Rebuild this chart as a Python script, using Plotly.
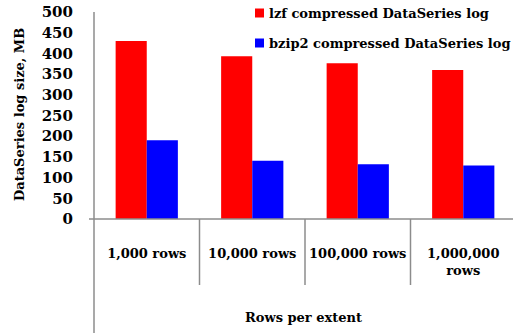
import plotly.graph_objects as go

categories = ["1,000 rows", "10,000 rows", "100,000 rows", "1,000,000<br>rows"]
lzf_values = [430, 393, 376, 360]
bzip2_values = [190, 141, 132, 129]
series_names = ["lzf compressed DataSeries log", "bzip2 compressed DataSeries log"]
series_colors = ["#ff0000", "#0000ff"]
y_ticks = [0, 50, 100, 150, 200, 250, 300, 350, 400, 450, 500]

FONT = "DejaVu Serif"
GRAY = "#8c8c8c"


def bold(size):
    return dict(family=FONT, size=size, color="black", weight="bold")


fig = go.Figure()
for vals, name, col in zip([lzf_values, bzip2_values], series_names, series_colors):
    fig.add_trace(go.Bar(x=categories, y=vals, name=name,
                         marker=dict(color=col, line=dict(width=0)), showlegend=False))

W, H = 513, 335
L, T, B = 94, 12, 116
pw = W - L
ph = H - T - B

shapes = []
for i in range(len(categories) - 1):
    shapes.append(dict(type="line", xref="x", yref="paper", x0=i + 0.5, x1=i + 0.5,
                       y0=0, y1=-(285 - 219) / ph, line=dict(color=GRAY, width=1.5)))
shapes.append(dict(type="line", xref="paper", yref="paper", x0=0, x1=0,
                   y0=1, y1=-(333 - 219) / ph, line=dict(color=GRAY, width=1.5)))
shapes.append(dict(type="line", xref="paper", yref="paper", x0=-5 / pw, x1=1,
                   y0=0, y1=0, line=dict(color=GRAY, width=1.5)))

annotations = [
    dict(text="Rows per extent", xref="paper", yref="paper", x=0.5, xanchor="center",
         y=-(317 - 219) / ph, yanchor="middle", showarrow=False, font=bold(13)),
    dict(text="DataSeries log size, MB", xref="paper", yref="paper",
         x=(19 - L) / pw, xanchor="center", y=(219 - 115) / ph, yanchor="middle",
         textangle=-90, showarrow=False, font=bold(13)),
]

# legend (manual, to match the reference's compact layout)
legend_rows_y = [13, 43]
for name, col, yy in zip(series_names, series_colors, legend_rows_y):
    yc = (219 - yy) / ph
    shapes.append(dict(type="rect", xref="paper", yref="paper",
                       x0=(255 - L) / pw, x1=(264 - L) / pw,
                       y0=yc - 4.5 / ph, y1=yc + 4.5 / ph,
                       fillcolor=col, line=dict(width=0)))
    annotations.append(dict(text=name, xref="paper", yref="paper", x=(267 - L) / pw,
                            xanchor="left", y=yc, yanchor="middle", showarrow=False,
                            font=bold(13)))

fig.update_layout(
    width=W, height=H,
    margin=dict(l=L, r=0, t=T, b=B, autoexpand=False),
    paper_bgcolor="white", plot_bgcolor="white",
    font=bold(13),
    barmode="group", bargap=0.41, bargroupgap=0,
    showlegend=False,
    xaxis=dict(range=[-0.5, 3.5 - 3 / 105.5], showline=False, showgrid=False, zeroline=False,
               ticks="outside", ticklen=22, tickcolor="rgba(0,0,0,0)", tickangle=0,
               tickfont=bold(13), fixedrange=True),
    yaxis=dict(range=[0, 500], tickvals=y_ticks, showline=False, showgrid=False, zeroline=False,
               ticks="", tickfont=bold(15), ticklabelstandoff=20),
    shapes=shapes,
    annotations=annotations,
)

fig.write_html("out.html")
